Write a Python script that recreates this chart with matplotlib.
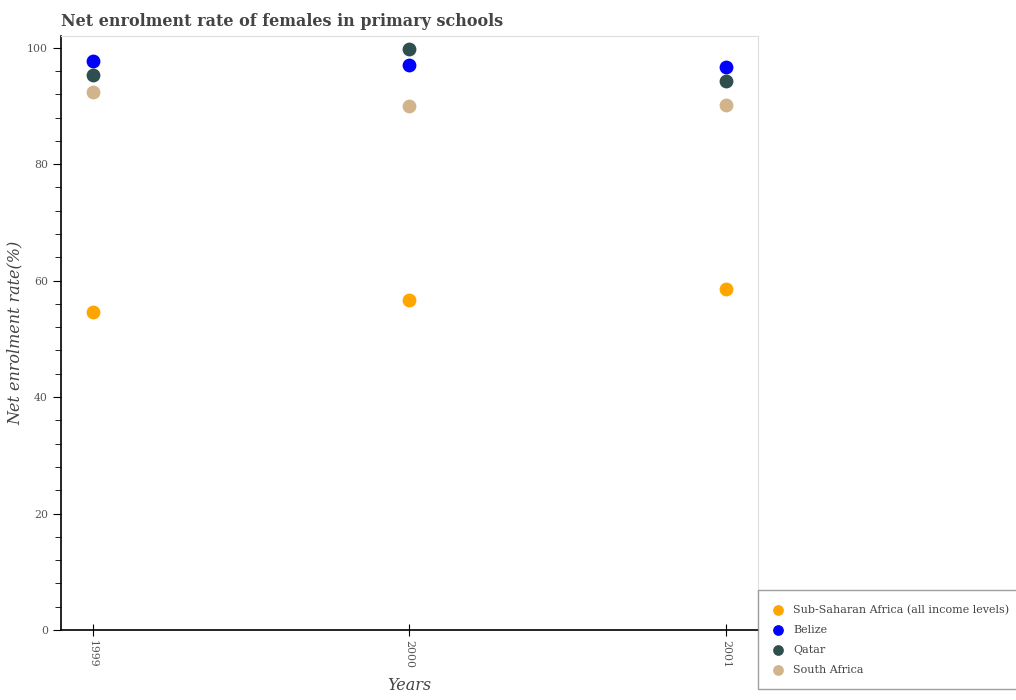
import matplotlib
matplotlib.use("Agg")
import matplotlib.pyplot as plt
from matplotlib.ticker import MultipleLocator

# Datos
years = [1999, 2000, 2001]
ssa = [54.6, 56.7, 58.6]
belize = [97.7, 97.1, 96.6]
qatar = [95.3, 99.8, 94.3]
south_africa = [92.3, 89.9, 90.2]

series = [
    ("Sub-Saharan Africa (all income levels)", ssa, "orange"),
    ("Belize", belize, "blue"),
    ("Qatar", qatar, "darkslategray"),
    ("South Africa", south_africa, "tan"),
]

plt.rcParams['font.family'] = 'DejaVu Serif'

fig = plt.figure(figsize=(10.16, 7.0), dpi=100)
ax = fig.add_axes([0.060, 0.1, 0.686, 0.8486])

for name, vals, col in series:
    ax.scatter(years, vals, s=80, color=col, label=name, zorder=3)

ax.set_xlim(1998.9, 2001.1)
ax.set_ylim(0, 102)
ax.set_xticks(years)
ax.set_xticklabels([str(y) for y in years], rotation=270)
ax.yaxis.set_major_locator(MultipleLocator(20))
ax.yaxis.set_minor_locator(MultipleLocator(4))

ax.tick_params(axis='x', direction='inout', length=8, labelsize=7.8, labelcolor='#555555')
ax.tick_params(axis='y', which='major', length=6, labelsize=7.8, labelcolor='#555555')
ax.tick_params(axis='y', which='minor', length=4)

for s in ['top', 'right']:
    ax.spines[s].set_color('#dddddd')
for s in ['left', 'bottom']:
    ax.spines[s].set_color('black')
    ax.spines[s].set_linewidth(1.2)

ax.set_title("Net enrolment rate of females in primary schools", loc='left',
             fontsize=11.5, fontweight='bold', color='#444444', pad=7)
ax.set_xlabel("Years", fontsize=11.5, style='italic', color='#444444', labelpad=6)
ax.set_ylabel("Net enrolment rate(%)", fontsize=11.5, style='italic', color='#444444', labelpad=2)

leg = ax.legend(loc='upper left', bbox_to_anchor=(1.0, 0.067), fontsize=8,
                prop={'family': 'DejaVu Serif', 'size': 8},
                frameon=True, fancybox=False, edgecolor='#888888',
                labelcolor='#444444', borderpad=1.3, labelspacing=0.9,
                handlelength=1.0, handletextpad=0.85, markerscale=0.75,
                borderaxespad=0)
leg.get_frame().set_linewidth(1.0)

fig.savefig("out.png", dpi=100)
